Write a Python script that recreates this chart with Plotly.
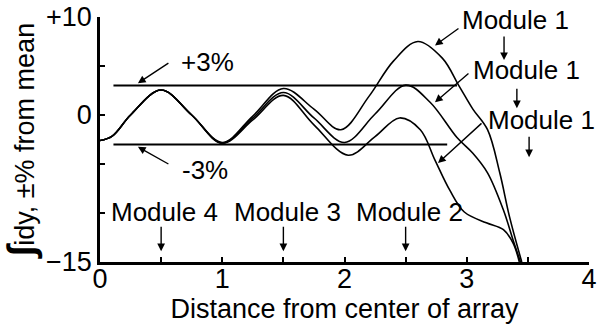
import plotly.graph_objects as go

# ---- data ----
xA = [0, 0.1, 0.25, 0.5, 0.75, 1.0, 1.25, 1.5, 1.75, 1.97, 2.2, 2.4, 2.6, 2.8, 2.94, 3.05, 3.17, 3.27, 3.35, 3.45]
yA = [-2.6, -2.15, 0.0, 2.55, 0.0, -2.8, -0.1, 2.7, 0.6, -1.5, 1.9, 5.5, 7.5, 5.8, 2.9, 0.6, -1.5, -5.9, -10.4, -15]

xB = [0, 0.1, 0.25, 0.5, 0.75, 1.0, 1.25, 1.5, 1.75, 2.0, 2.25, 2.5, 2.7, 2.92, 3.05, 3.17, 3.30, 3.38, 3.44]
yB = [-2.6, -2.15, 0.0, 2.55, 0.0, -2.85, -0.3, 2.3, -0.3, -2.8, 0.1, 3.05, 1.3, -2.3, -3.9, -5.9, -9.7, -12.8, -15]

xC = [0, 0.1, 0.25, 0.5, 0.75, 1.0, 1.25, 1.5, 1.75, 2.03, 2.25, 2.45, 2.62, 2.74, 2.86, 2.98, 3.16, 3.30, 3.38, 3.43]
yC = [-2.6, -2.15, 0.0, 2.55, 0.0, -2.9, -0.5, 2.0, -1.0, -4.1, -2.2, -0.3, -1.5, -4.6, -7.65, -9.9, -11.0, -11.7, -13.1, -15]

band_levels = [3, -3]
band_x0 = [0.11, 0.11]
band_x1 = [2.92, 2.84]

x_tickvals = [0, 0.5, 1, 1.5, 2, 2.5, 3, 3.5, 4]
x_ticktext = ["0", "", "1", "", "2", "", "3", "", "4"]
y_tickvals = [-15, -10, -5, 0, 5, 10]
y_ticktext = ["\u221215", "", "", "0", "", "+10"]

module_labels = ["Module 4", "Module 3", "Module 2"]
module_x = [0.5, 1.5, 2.5]

FONT = "Liberation Sans, Arial, sans-serif"

fig = go.Figure()
for xs, ys in [(xA, yA), (xB, yB), (xC, yC)]:
    fig.add_trace(go.Scatter(x=xs, y=ys, mode="lines",
                             line=dict(color="black", width=1.6, shape="spline", smoothing=1.0),
                             showlegend=False, hoverinfo="skip"))
for lv, a, b in zip(band_levels, band_x0, band_x1):
    fig.add_trace(go.Scatter(x=[a, b], y=[lv, lv], mode="lines",
                             line=dict(color="black", width=2),
                             showlegend=False, hoverinfo="skip"))

ann = []
def arrow(x, y, ax, ay):
    ann.append(dict(x=x, y=y, ax=ax, ay=ay, xref="x", yref="y", text="",
                    showarrow=True, arrowhead=2, arrowsize=1.1, arrowwidth=1.4,
                    arrowcolor="black"))
def label(x, y, t, size=26):
    ann.append(dict(x=x, y=y, xref="x", yref="y", text=t, showarrow=False,
                    font=dict(size=size, color="black", family=FONT)))

# +3% / -3%
label(0.88, 5.4, "+3%")
arrow(0.31, 3.25, 32, -21)
label(0.86, -5.6, "-3%")
arrow(0.31, -3.25, 32, 18)

# Module 1 labels
label(3.40, 9.7, "Module 1")
arrow(2.74, 7.1, 25, -18)
arrow(3.305, 5.6, 0, -25)
label(3.49, 4.6, "Module 1")
arrow(2.74, 1.3, 35, -30)
arrow(3.41, 0.7, 0, -21)
label(3.61, -0.5, "Module 1")
arrow(2.765, -4.9, 45, -41)
arrow(3.51, -4.3, 0, -22)

# Modules 2-4
for t, mx in zip(module_labels, module_x):
    label(mx + 0.03, -9.9, t)
    arrow(mx, -13.9, 0, -26)

fig.update_layout(
    width=600, height=324,
    margin=dict(l=100, r=11, t=17, b=62),
    paper_bgcolor="white", plot_bgcolor="white",
    font=dict(family=FONT, size=27, color="black"),
    annotations=ann,
    xaxis=dict(range=[0, 4], tickvals=x_tickvals, ticktext=x_ticktext,
               ticks="inside", ticklen=5, tickwidth=2, tickcolor="black",
               showline=True, linecolor="black", linewidth=2.5,
               showgrid=False, zeroline=False, automargin=False,
               ticklabelstandoff=-9,
               title=dict(text="Distance from center of array", standoff=0,
                          font=dict(size=27))),
    yaxis=dict(range=[-15, 10], tickvals=y_tickvals, ticktext=y_ticktext,
               ticks="inside", ticklen=5, tickwidth=2, tickcolor="black",
               showline=True, linecolor="black", linewidth=2.5,
               showgrid=False, zeroline=False, automargin=False,
               title=dict(text="<span style='font-size:38px'><b>\u222b</b></span>idy, \u00b1% from mean",
                          standoff=4, font=dict(size=27))),
)

fig.write_html("out.html", config={"displayModeBar": False},
               post_script="document.body.style.margin='0';document.body.style.overflow='hidden';")
